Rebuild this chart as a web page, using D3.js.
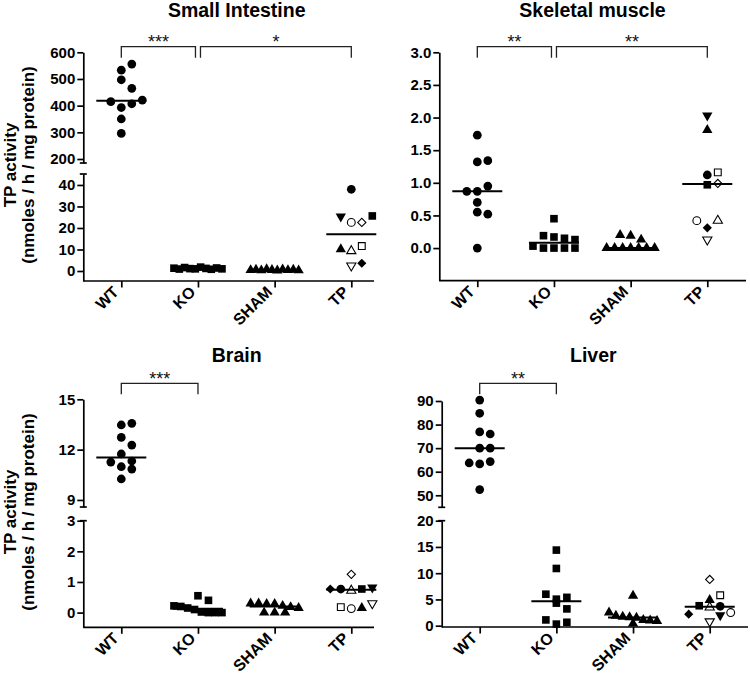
<!DOCTYPE html>
<html>
<head>
<meta charset="utf-8">
<script src="https://cdn.jsdelivr.net/npm/d3@7"></script>
<style>
  body { margin: 0; background: #fff; }
  text { font-family: "Liberation Sans", Arial, sans-serif; }
</style>
</head>
<body>
<div id="chart"></div>
<script>
// groups on the x axis
var groups = ["WT", "KO", "SHAM", "TP"];

// Small intestine
var siWT = [533, 556, 497, 465, 415, 393, 407, 421, 350, 296];
var siKO = [1.3, 0.9, 1.6, 1.1, 1.0, 1.8, 1.2, 0.8, 1.4, 1.0];
var siSHAM = [0.4, 0.6, 0.3, 0.8, 0.5, 0.2, 0.7, 0.4, 0.6, 0.3];
var siTPmice = ["TP1", "TP4", "TP6", "TP10", "TP2", "TP3", "TP8", "TP7", "TP9", "TP5"];
var siTP = [38.0, 25.3, 22.6, 22.6, 25.6, 10.1, 9.3, 11.6, 2.5, 3.6];
var siComps = [["WT", "KO", "***"], ["KO", "TP", "*"]];

// Skeletal muscle
var skWT = [1.73, 1.32, 1.34, 0.87, 0.87, 0.95, 0.70, 0.55, 0.52, 0.0];
var skKO = [0.45, 0.19, 0.17, 0.15, 0.13, 0.03, 0, 0, 0, 0];
var skSHAM = [0.20, 0.19, 0.13, 0, 0, 0, 0, 0, 0, 0];
var skTPmice = ["TP4", "TP3", "TP1", "TP7", "TP2", "TP10", "TP6", "TP5", "TP8", "TP9"];
var skTP = [2.03, 1.81, 1.12, 1.16, 0.97, 0.99, 0.42, 0.31, 0.42, 0.13];
var skComps = [["WT", "KO", "**"], ["KO", "TP", "**"]];

// Brain
var brWT = [13.47, 13.57, 12.73, 12.27, 11.26, 11.74, 11.32, 10.98, 10.84, 10.25];
var brKO = [0.55, 0.40, 0.22, 0.20, 0.15, 0.10, 0.02, 0, 0, 0];
var brSHAM = [0.30, 0.30, 0.28, 0.28, 0.22, 0.18, 0.15, 0, 0, 0];
var brTPmice = ["TP10", "TP5", "TP1", "TP8", "TP2", "TP4", "TP7", "TP6", "TP3", "TP9"];
var brTP = [1.25, 0.77, 0.77, 0.72, 0.77, 0.82, 0.18, 0.13, 0.15, 0.30];
var brComps = [["WT", "KO", "***"]];

// Liver
var lvWT = [90.4, 84.8, 76.9, 76.0, 70, 70, 63.7, 63.3, 64.3, 52.4];
var lvKO = [14.4, 10.9, 6.0, 5.05, 5.4, 4.3, 3.2, 1.1, 0.3, 0.65];
var lvSHAM = [5.7, 2.5, 1.9, 1.7, 1.6, 1.5, 1.1, 1.0, 0.9, 0.4];
var lvTPmice = ["TP10", "TP3", "TP7", "TP5", "TP2", "TP8", "TP1", "TP6", "TP9", "TP4"];
var lvTP = [8.8, 4.9, 5.8, 2.2, 3.8, 3.5, 3.7, 2.5, 0.8, 2.0];
var lvComps = [["WT", "KO", "**"]];

// symbol for each group / each TP mouse: [shape, filled]
var groupMarker = { WT: ["circle", 1], KO: ["square", 1], SHAM: ["triangle", 1] };
var tpMarker = {
    TP1: ["circle", 1], TP2: ["square", 1], TP3: ["triangle", 1], TP4: ["triangleDown", 1], TP5: ["diamond", 1],
    TP6: ["circle", 0], TP7: ["square", 0], TP8: ["triangle", 0], TP9: ["triangleDown", 0], TP10: ["diamond", 0]
};

var svg = d3.select("#chart")
    .append("svg")
    .attr("width", 750)
    .attr("height", 674);

// panel layout
var panels = [
    {
        title: "Small Intestine", tx: 236.7, ty: 17, ox: 83.3, xEnd: 374, baseY: 281, brY: 46.7,
        segs: [
            { domain: [185, 600], range: [163, 52.3], ticks: [200, 300, 400, 500, 600] },
            { domain: [-4.65, 45.1], range: [281, 174], ticks: [0, 10, 20, 30, 40] }
        ],
        fmt: d3.format("d"),
        series: { WT: siWT, KO: siKO, SHAM: siSHAM }, tpMice: siTPmice, tp: siTP, comps: siComps
    },
    {
        title: "Skeletal muscle", tx: 592.5, ty: 17, ox: 439.3, xEnd: 746, baseY: 280.7, brY: 46.7,
        segs: [
            { domain: [-0.5, 3.0], range: [280.7, 52.3], ticks: [0, 0.5, 1.0, 1.5, 2.0, 2.5, 3.0] }
        ],
        fmt: d3.format(".1f"),
        series: { WT: skWT, KO: skKO, SHAM: skSHAM }, tpMice: skTPmice, tp: skTP, comps: skComps
    },
    {
        title: "Brain", tx: 236.7, ty: 362, ox: 83.3, xEnd: 374, baseY: 627.3, brY: 383.3,
        segs: [
            { domain: [8.58, 15], range: [507, 399.3], ticks: [9, 12, 15] },
            { domain: [-0.48, 3], range: [627.3, 520.7], ticks: [0, 1, 2, 3] }
        ],
        fmt: d3.format("d"),
        series: { WT: brWT, KO: brKO, SHAM: brSHAM }, tpMice: brTPmice, tp: brTP, comps: brComps
    },
    {
        title: "Liver", tx: 593.3, ty: 362, ox: 441.7, xEnd: 748, baseY: 627, brY: 383.3,
        segs: [
            { domain: [44.9, 90], range: [507.3, 401], ticks: [50, 60, 70, 80, 90] },
            { domain: [-0.25, 20], range: [627, 520.7], ticks: [0, 5, 10, 15, 20] }
        ],
        fmt: d3.format("d"),
        series: { WT: lvWT, KO: lvKO, SHAM: lvSHAM }, tpMice: lvTPmice, tp: lvTP, comps: lvComps
    }
];

function symbolPath(shape, filled) {
    var shrink = filled ? 1 : 0.8;
    if (shape === "circle") return d3.symbol(d3.symbolCircle, 60 * shrink)();
    if (shape === "square") return d3.symbol(d3.symbolSquare, 58 * shrink)();
    if (shape === "diamond") return d3.symbol(d3.symbolSquare, 42 * shrink)();
    return d3.symbol(d3.symbolTriangle, 46 * shrink)();
}
function symbolRotate(shape) {
    if (shape === "diamond") return 45;
    if (shape === "triangleDown") return 180;
    return 0;
}

// spread points of similar height into rows (like a column scatter)
function layoutRows(pts, cx) {
    var sorted = pts.slice().sort(function (a, b) { return a.y - b.y || a.i - b.i; });
    var rows = [], cur = null;
    sorted.forEach(function (p) {
        if (!cur || p.y - cur.y0 >= 8.6) { cur = { y0: p.y, items: [] }; rows.push(cur); }
        cur.items.push(p);
    });
    rows.forEach(function (r) {
        r.items.sort(function (a, b) { return a.i - b.i; });
        var n = r.items.length;
        var step = n > 1 ? Math.min(10.5, 48 / (n - 1)) : 0;
        var shift = (n % 2 === 0 && n <= 4) ? 0.5 : 0;
        r.items.forEach(function (p, k) { p.x = cx + (k - (n - 1) / 2 + shift) * step; });
    });
    return pts;
}

panels.forEach(function (P) {
    var g = svg.append("g");

    var x = d3.scalePoint().domain(groups).range([P.ox + 38, P.ox + 268]);
    var segs = P.segs.map(function (s) {
        return { s: s, y: d3.scaleLinear().domain(s.domain).range(s.range) };
    });
    function yOf(v) {
        for (var k = 0; k < segs.length; k++) {
            if (v >= segs[k].s.domain[0]) return segs[k].y(v);
        }
        return segs[segs.length - 1].y(v);
    }

    // title
    g.append("text")
        .attr("x", P.tx).attr("y", P.ty)
        .attr("text-anchor", "middle")
        .style("font-size", "19.5px").style("font-weight", "bold")
        .text(P.title);

    // y axis segments
    segs.forEach(function (sg, k) {
        var ax = g.append("g")
            .attr("transform", "translate(" + P.ox + ",0)")
            .call(d3.axisLeft(sg.y).tickValues(sg.s.ticks).tickFormat(P.fmt).tickSize(6).tickSizeOuter(0).tickPadding(2));
        ax.select(".domain").attr("stroke-width", 1.7);
        ax.selectAll(".tick line").attr("stroke-width", 1.7);
        ax.selectAll("text").style("font-size", "15px").style("font-weight", "bold");
        if (segs.length > 1) {
            // break caps
            var yEnd = k === 0 ? sg.s.range[0] : sg.s.range[1];
            g.append("line")
                .attr("x1", P.ox - 3.5).attr("x2", P.ox + 3.5)
                .attr("y1", yEnd).attr("y2", yEnd)
                .attr("stroke", "#000").attr("stroke-width", 1.7);
        }
    });

    // x axis
    g.append("line")
        .attr("x1", P.ox).attr("x2", P.xEnd)
        .attr("y1", P.baseY).attr("y2", P.baseY)
        .attr("stroke", "#000").attr("stroke-width", 1.7);
    var xa = g.append("g")
        .attr("transform", "translate(0," + P.baseY + ")")
        .call(d3.axisBottom(x).tickSize(6.5));
    xa.select(".domain").remove();
    xa.selectAll(".tick line").attr("stroke-width", 1.7);
    xa.selectAll("text")
        .attr("x", 0).attr("y", 0).attr("dy", "0.35em")
        .attr("text-anchor", "end")
        .attr("transform", "translate(-6,8) rotate(-45)")
        .style("font-size", "16px").style("font-weight", "bold");

    // points
    groups.forEach(function (grp) {
        var pts;
        if (grp === "TP") {
            pts = P.tp.map(function (v, i) { return { v: v, i: i, y: yOf(v), m: tpMarker[P.tpMice[i]] }; });
        } else {
            pts = P.series[grp].map(function (v, i) { return { v: v, i: i, y: yOf(v), m: groupMarker[grp] }; });
        }
        layoutRows(pts, x(grp));

        g.selectAll(null)
            .data(pts)
            .enter()
            .append("path")
            .attr("d", function (d) { return symbolPath(d.m[0], d.m[1]); })
            .attr("transform", function (d) {
                return "translate(" + d.x + "," + d.y + ") rotate(" + symbolRotate(d.m[0]) + ")";
            })
            .attr("fill", function (d) { return d.m[1] ? "#000" : "#fff"; })
            .attr("stroke", "#000")
            .attr("stroke-width", function (d) { return d.m[1] ? 0 : 1.1; });

        // median line
        var vals = grp === "TP" ? P.tp : P.series[grp];
        var med = yOf(d3.median(vals));
        g.append("line")
            .attr("x1", x(grp) - 25).attr("x2", x(grp) + 25)
            .attr("y1", med).attr("y2", med)
            .attr("stroke", "#000").attr("stroke-width", 2);
    });

    // significance brackets
    P.comps.forEach(function (c, k) {
        var x1 = x(c[0]) + (k > 0 ? 2.5 : 0);
        var x2 = x(c[1]) - (P.comps.length > 1 && k === 0 ? 2.5 : 0);
        g.append("path")
            .attr("d", "M" + x1 + "," + (P.brY + 11) + "V" + P.brY + "H" + x2 + "V" + (P.brY + 11))
            .attr("fill", "none").attr("stroke", "#222").attr("stroke-width", 1.3);
        g.append("text")
            .attr("x", (x1 + x2) / 2).attr("y", P.brY + 1.5)
            .attr("text-anchor", "middle")
            .style("font-size", "18px").style("fill", "#111")
            .text(c[2]);
    });
});

// y axis titles
[165, 512].forEach(function (cy) {
    svg.append("text")
        .attr("transform", "translate(16," + cy + ") rotate(-90)")
        .attr("text-anchor", "middle")
        .style("font-size", "17px").style("font-weight", "bold")
        .text("TP activity");
    svg.append("text")
        .attr("transform", "translate(33.5," + cy + ") rotate(-90)")
        .attr("text-anchor", "middle")
        .style("font-size", "17px").style("font-weight", "bold")
        .text("(nmoles / h / mg protein)");
});
</script>
</body>
</html>
